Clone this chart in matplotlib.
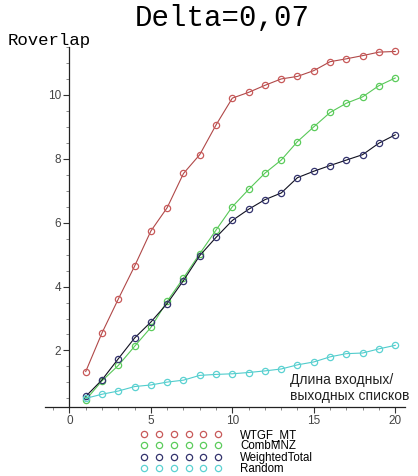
import numpy as np
import matplotlib.pyplot as plt
from matplotlib.lines import Line2D
from matplotlib.ticker import MultipleLocator

n = list(range(1, 21))

wtgf_mt = [1.34, 2.55, 3.61, 4.64, 5.74, 6.47, 7.54, 8.13, 9.06, 9.90,
           10.08, 10.30, 10.50, 10.58, 10.76, 11.04, 11.13, 11.23, 11.34, 11.36]
combmnz = [0.45, 1.05, 1.53, 2.13, 2.72, 3.54, 4.27, 5.03, 5.77, 6.50,
           7.04, 7.55, 7.96, 8.54, 9.00, 9.45, 9.74, 9.94, 10.29, 10.53]
weighted = [0.56, 1.08, 1.74, 2.39, 2.89, 3.47, 4.19, 4.97, 5.54, 6.07,
            6.42, 6.72, 6.93, 7.41, 7.61, 7.79, 7.96, 8.13, 8.49, 8.75]
rand = [0.50, 0.63, 0.73, 0.87, 0.92, 1.01, 1.07, 1.22, 1.25, 1.27,
        1.31, 1.36, 1.42, 1.55, 1.64, 1.80, 1.90, 1.92, 2.05, 2.16]

names = ['WTGF_MT', 'CombMNZ', 'WeightedTotal', 'Random']
series = [wtgf_mt, combmnz, weighted, rand]
mcol = ['#c85a5a', '#5ccc5c', '#34346e', '#5cd2d2']
lcol = ['#b04848', '#58c858', '#101020', '#50cccc']

W, H = 418, 476
fig = plt.figure(figsize=(W / 100, H / 100), dpi=100)
ax = fig.add_axes([45 / W, 1 - 407 / H, 360 / W, 360 / H])

for ys, mc, lc in zip(series, mcol, lcol):
    ax.plot(n, ys, color=lc, lw=0.8, marker='o', ms=4.5, mfc='none',
            mec=mc, mew=0.9)

ax.set_xlim(-1.5, 20.6)
ax.set_ylim(0.23, 11.5)
ax.spines['left'].set_position(('data', 0))
ax.spines['top'].set_visible(False)
ax.spines['right'].set_visible(False)
for s in ['left', 'bottom']:
    ax.spines[s].set_color('#222222')
    ax.spines[s].set_linewidth(0.9)

ax.set_xticks([0, 5, 10, 15, 20])
ax.set_yticks([2, 4, 6, 8, 10])
ax.xaxis.set_minor_locator(MultipleLocator(1))
ax.yaxis.set_minor_locator(MultipleLocator(0.5))
ax.tick_params(which='major', length=4, width=0.8, color='#333333',
               labelsize=8.5, labelcolor='#444444', pad=2)
ax.tick_params(which='minor', length=2, width=0.6, color='#777777')
for lab in ax.get_xticklabels() + ax.get_yticklabels():
    lab.set_family('Liberation Sans')

fig.text(222 / W, 1 - 18 / H, 'Delta=0,07', family='Liberation Mono',
         fontsize=21, ha='center', va='center')
fig.text(8 / W, 1 - 40 / H, 'Roverlap', family='Liberation Mono',
         fontsize=12.5, ha='left', va='center')
fig.text(290 / W, 1 - 388 / H, 'Длина входных/\nвыходных списков',
         family='Liberation Sans', fontsize=10, ha='left', va='center',
         linespacing=1.2, color='#222222')

handles = [Line2D([], [], ls='none', marker='o', ms=4.5, mfc='none', mec=c,
                  mew=0.9) for c in mcol]
fig.legend(handles, names, loc='center', bbox_to_anchor=(227 / W, 1 - 452 / H),
           numpoints=6, handlelength=7.0, handletextpad=1.6, labelspacing=-0.06,
           frameon=False, borderpad=0, prop={'family': 'Liberation Sans', 'size': 8.3})

fig.savefig('out.png', dpi=100)
